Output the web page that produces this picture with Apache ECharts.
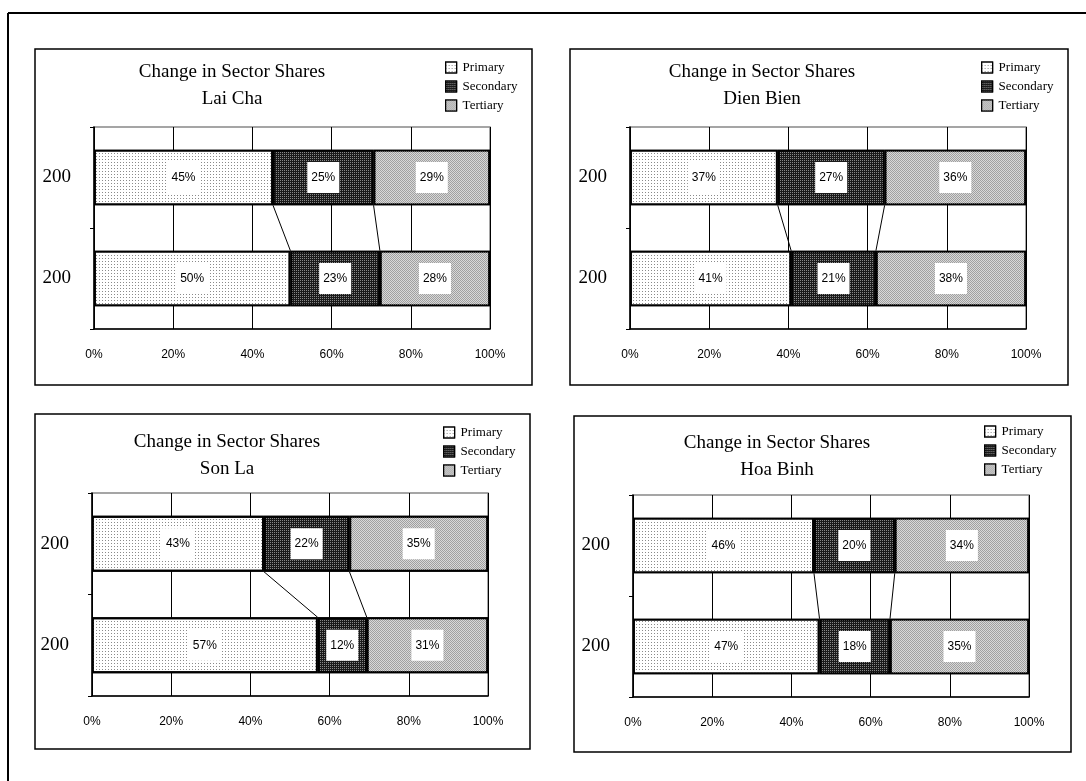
<!DOCTYPE html>
<html>
<head>
<meta charset="utf-8">
<script src="https://cdn.jsdelivr.net/npm/echarts@6/dist/echarts.min.js"></script>
<style>
  html, body { margin: 0; padding: 0; background: #fff; }
  #chart { width: 1086px; height: 781px; }
</style>
</head>
<body>
<div id="chart"></div>
<script>
// ---- data ----
const regions = ['Lai Cha', 'Dien Bien', 'Son La', 'Hoa Binh'];
const chartTitle = 'Change in Sector Shares';
const categories = ['200', '200'];          // lower bar, upper bar (year labels, clipped as in source)
const sectors = ['Primary', 'Secondary', 'Tertiary'];
const xTicks = [0, 20, 40, 60, 80, 100];

// shares (%) of the upper bar, one value per region
const primaryUpper   = [45.2, 37.3, 43.4, 45.7];
const secondaryUpper = [25.4, 27.0, 21.6, 20.4];
const tertiaryUpper  = [29.4, 35.7, 35.0, 33.9];
// shares (%) of the lower bar, one value per region
const primaryLower   = [49.6, 40.7, 57.0, 47.1];
const secondaryLower = [22.6, 21.4, 12.4, 17.8];
const tertiaryLower  = [27.8, 37.9, 30.6, 35.1];

// ---- layout ----
const panels = [
  { box: [35, 49, 532, 385],  grid: [94, 127, 490, 329],  title: [227, 54],  legend: [440, 56] },
  { box: [570, 49, 1068, 385], grid: [630, 127, 1026, 329], title: [757, 54], legend: [976, 56] },
  { box: [35, 414, 530, 749],  grid: [92, 493, 488, 696],  title: [222, 424], legend: [438, 421] },
  { box: [574, 416, 1071, 752], grid: [633, 495, 1029, 697], title: [772, 425], legend: [979, 420] }
];
const barRatio = 0.55;
const serif = '"Liberation Serif", "Times New Roman", serif';
const sans = '"Liberation Sans", Arial, sans-serif';

const sectorStyles = [
  { color: '#ffffff', borderColor: '#000', borderWidth: 1.8,
    decal: { symbol: 'rect', symbolSize: 1, dashArrayX: [1, 2], dashArrayY: [1, 2], color: '#8a8a8a' } },
  { color: '#1a1a1a', borderColor: '#000', borderWidth: 1.8,
    decal: { symbol: 'rect', symbolSize: 1, dashArrayX: [1, 1], dashArrayY: [1, 1], color: '#888' } },
  { color: '#a0a0a0', borderColor: '#000', borderWidth: 1.8,
    decal: { symbol: 'rect', symbolSize: 1, dashArrayX: [[1, 1], [0, 1, 1, 0]], dashArrayY: [1, 0], color: '#d8d8d8' } }
];

const upper = [primaryUpper, secondaryUpper, tertiaryUpper];
const lower = [primaryLower, secondaryLower, tertiaryLower];

const chart = echarts.init(document.getElementById('chart'));

const grids = [], xAxes = [], yAxes = [], series = [], titles = [], legends = [], graphics = [];

// outer frame (only top and left edges visible)
graphics.push({ type: 'line', shape: { x1: 8, y1: 13, x2: 1086, y2: 13 }, style: { stroke: '#000', lineWidth: 2 } });
graphics.push({ type: 'line', shape: { x1: 8, y1: 13, x2: 8, y2: 781 }, style: { stroke: '#000', lineWidth: 2 } });

panels.forEach((p, i) => {
  const [bx1, by1, bx2, by2] = p.box;
  graphics.push({ type: 'rect', shape: { x: bx1, y: by1, width: bx2 - bx1, height: by2 - by1 },
    style: { fill: 'none', stroke: '#000', lineWidth: 1.5 }, z: 0 });

  const [gx1, gy1, gx2, gy2] = p.grid;
  grids.push({ left: gx1, top: gy1, width: gx2 - gx1, height: gy2 - gy1,
    show: true, borderColor: '#888', borderWidth: 1.5, backgroundColor: '#fff' });

  xAxes.push({
    type: 'value', gridIndex: i, min: xTicks[0], max: xTicks[xTicks.length - 1],
    interval: xTicks[1] - xTicks[0],
    axisLine: { show: true, lineStyle: { color: '#000', width: 1.5 } },
    axisTick: { show: false },
    splitLine: { show: true, lineStyle: { color: '#000', width: 1 } },
    axisLabel: { formatter: '{value}%', margin: 20, color: '#000', fontSize: 12, fontFamily: sans }
  });
  yAxes.push({
    type: 'category', gridIndex: i, data: categories,
    axisLine: { show: true, lineStyle: { color: '#000', width: 1.5 } },
    axisTick: { show: true, length: 4, lineStyle: { color: '#000' } },
    axisLabel: { margin: 23, color: '#000', fontSize: 19, fontFamily: serif, padding: [6, 0, 0, 0] }
  });

  sectors.forEach((name, s) => {
    series.push({
      type: 'bar', name, xAxisIndex: i, yAxisIndex: i, stack: 'total' + i,
      barWidth: (barRatio * 100) + '%',
      data: [lower[s][i], upper[s][i]],
      itemStyle: sectorStyles[s],
      label: {
        show: true, position: 'inside', formatter: (d) => Math.round(d.value) + '%',
        backgroundColor: '#fff', padding: [9, 4, 8, 4], color: '#000', fontSize: 12, fontFamily: sans, lineHeight: 14
      },
      emphasis: { disabled: true }
    });
  });

  // connector lines between boundaries of the two bars
  series.push({
    type: 'custom', xAxisIndex: i, yAxisIndex: i, silent: true, z: 5,
    encode: { x: [0, 1] },
    data: [
      [primaryUpper[i], primaryLower[i]],
      [primaryUpper[i] + secondaryUpper[i], primaryLower[i] + secondaryLower[i]]
    ],
    renderItem: (params, api) => {
      const up = api.coord([api.value(0), 1]);
      const lo = api.coord([api.value(1), 0]);
      const half = api.size([0, 1])[1] * barRatio / 2;
      return { type: 'line', shape: { x1: up[0], y1: up[1] + half, x2: lo[0], y2: lo[1] - half },
        style: { stroke: '#000', lineWidth: 1 } };
    }
  });

  titles.push({
    text: chartTitle + '\n' + regions[i], left: p.title[0], top: p.title[1], textAlign: 'center',
    textStyle: { fontFamily: serif, fontSize: 19, fontWeight: 'normal', color: '#000', lineHeight: 27 }
  });
  legends.push({
    data: sectors, orient: 'vertical', left: p.legend[0], top: p.legend[1],
    itemWidth: 11, itemHeight: 11, itemGap: 6, icon: 'rect', selectedMode: false,
    textStyle: { fontFamily: serif, fontSize: 13, color: '#000', padding: [0, 0, 0, 1] },
    itemStyle: { borderColor: '#000', borderWidth: 1.2 }
  });
});

chart.setOption({
  animation: false,
  backgroundColor: '#fff',
  title: titles, legend: legends, grid: grids, xAxis: xAxes, yAxis: yAxes, series,
  graphic: graphics
});
</script>
</body>
</html>
